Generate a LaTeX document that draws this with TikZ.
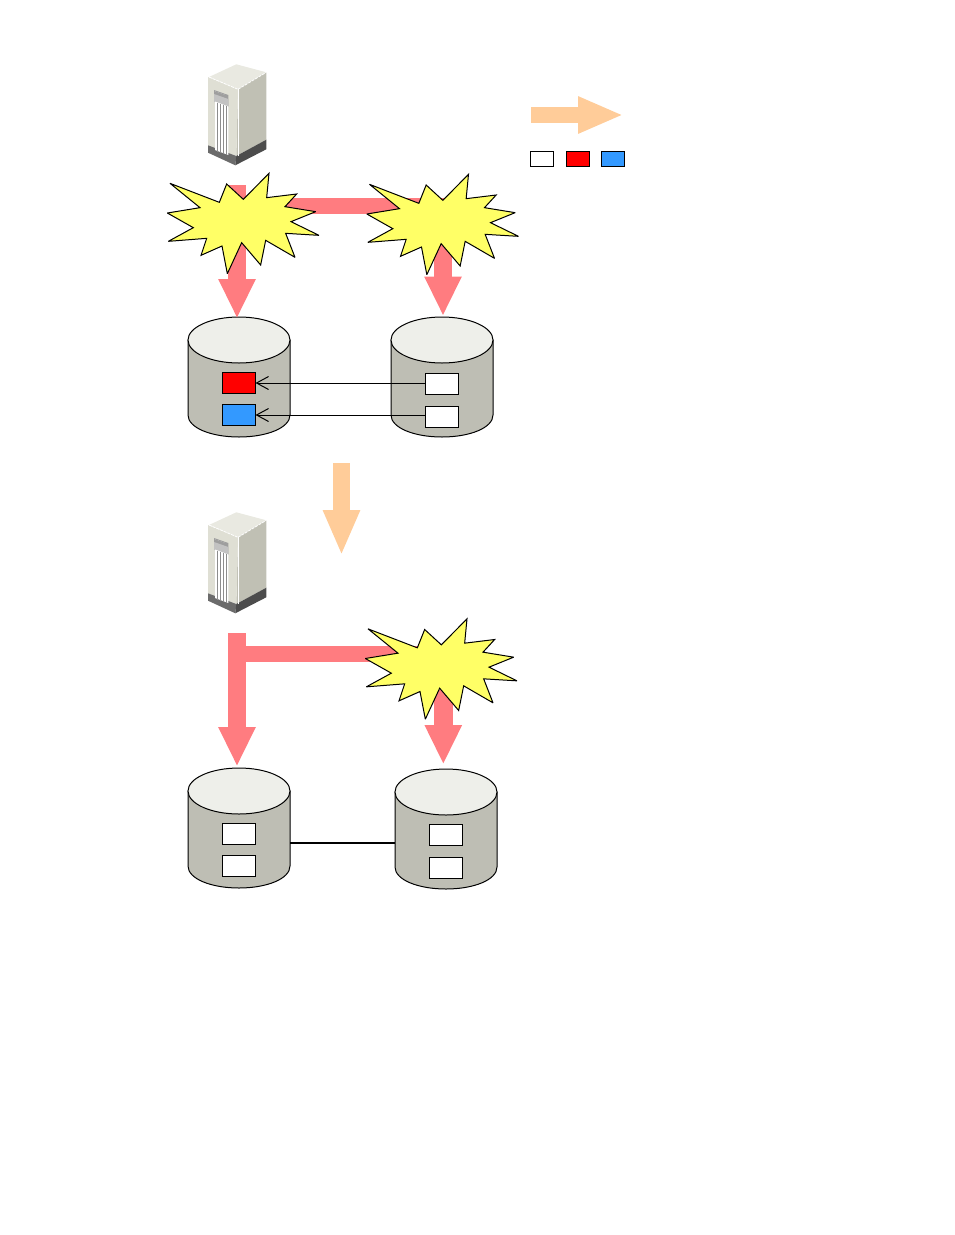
\documentclass[tikz,border=0pt]{standalone}
\usetikzlibrary{arrows.meta}
\definecolor{flow}{HTML}{FF7C80}
\definecolor{stepflow}{HTML}{FFCC99}
\definecolor{burstfill}{HTML}{FFFF66}
\definecolor{drumbody}{HTML}{BEBEB4}
\definecolor{drumtop}{HTML}{EEEFEA}
\definecolor{volblue}{HTML}{3399FF}
\definecolor{cabtop}{HTML}{E9E9E1}
\definecolor{cabfront}{HTML}{DFDFD4}
\definecolor{cabside}{HTML}{C0C0B4}
\tikzset{
  drumframe/.style={rectangle, minimum width=102pt, minimum height=120pt, inner sep=0pt, outer sep=0pt},
  drumline/.style={draw=black, line width=1pt},
  vol/.style={rectangle, draw=black, line width=1pt, minimum width=33pt, minimum height=21pt,
    inner sep=0pt, outer sep=0pt, fill=white},
  swatch/.style={rectangle, draw=black, line width=1pt, minimum width=23.5pt, minimum height=15pt,
    inner sep=0pt, outer sep=0pt, fill=white},
  flowarrow/.style={draw=flow, line width=18.5pt, -{Triangle[length=39.5pt,width=34.5pt]}},
  flowbar/.style={draw=flow, line width=16pt},
  stepbar/.style={draw=stepflow, line width=16.5pt, -{Triangle[length=45.5pt,width=34pt]}},
  copyline/.style={draw=black, line width=1pt, -{Straight Barb[length=12pt,width=13pt]}},
  burst/.pic={
    \begin{scope}[xshift=150pt,yshift=-165pt,x=.33333pt,y=-.33333pt]
      \draw[fill=burstfill,draw=black,line width=1pt,line join=miter,miter limit=3]
        (60,55)--(208,112)--(230,57)--(280,103)--(357,25)--(350,98)--(440,87)--(405,125)
        --(497,140)--(423,170)--(507,211)--(407,205)--(435,277)--(347,226)--(332,300)
        --(275,233)--(232,326)--(216,243)--(153,271)--(170,220)--(55,229)--(130,188)
        --(52,144)--(150,128)--cycle;
    \end{scope}
  },
  tower/.pic={
    % top, sides and plinth of the server cabinet
    \fill[cabtop] (209,77)--(236.3,64.3)--(266.3,72.3)--(238,89.3)--cycle;
    \fill[cabside] (238,89.3)--(266.3,72.3)--(266.3,139.7)--(236.3,156)--cycle;
    \fill[cabfront] (208,77)--(238,89.3)--(236.3,156)--(208,145.3)--cycle;
    \fill[black!58] (208,145.3)--(236.3,156)--(235.3,165.3)--(208,152.7)--cycle;
    \fill[black!70] (236.3,156)--(266.3,139.7)--(266.3,149.3)--(235.3,165.3)--cycle;
    \draw[white,line width=.8pt] (238,89.3)--(238,156);
    \draw[white,line width=.8pt,dash pattern=on 3pt off 1pt] (238,89.3)--(266.3,72.3);
    \draw[white,line width=.8pt,dash pattern=on 3pt off 1pt] (209,77)--(238,89.3);
    % vent panel and grille
    \fill[black!38] (214,90)--(228.3,95)--(228.3,106.7)--(214,101.7)--cycle;
    \fill[black!24] (214,94)--(228.3,99)--(228.3,106.7)--(214,101.7)--cycle;
    \fill[white] (215,101.5)--(228.3,106.5)--(228.3,155)--(215,150)--cycle;
    \foreach \sx in {217,220,223,226}{
      \draw[black!45,line width=1pt] (\sx,{102+(\sx-215)*.38}) -- (\sx,{151+(\sx-215)*.38});
    }
    \draw[black!25,line width=.6pt,dash pattern=on 1pt off 2pt] (215,91)--(226,95);
  }
}
% A disk drum: an invisible frame node that carries the name, with the body and lid drawn over it
\newcommand{\drumat}[3]{%
  \node[drumframe] (#1) at (#2,#3) {};
  \begin{scope}[shift={(#2,#3)}]
    \draw[drumline,fill=drumbody] (-51,-37) -- (-51,38)
      .. controls (-51,50.7) and (-28.2,60) .. (0,60)
      .. controls (28.2,60) and (51,50.7) .. (51,38) -- (51,-37) -- cycle;
    \draw[drumline,fill=drumtop] (-51,-37)
      .. controls (-51,-49.7) and (-28.2,-60) .. (0,-60)
      .. controls (28.2,-60) and (51,-49.7) .. (51,-37)
      .. controls (51,-24.3) and (28.2,-14) .. (0,-14)
      .. controls (-28.2,-14) and (-51,-24.3) .. (-51,-37) -- cycle;
  \end{scope}%
}
\begin{document}
\begin{tikzpicture}[x=1pt,y=-1pt]
\useasboundingbox (0,0) rectangle (954,1235);

% legend
\coordinate (legA) at (531,115);
\coordinate (legB) at (623.5,115);
\draw[stepbar] (legA) -- (legB);
\node[swatch] (swWhite) at (541.8,159) {};
\node[swatch,fill=red] (swRed) at (578,159) {};
\node[swatch,fill=volblue] (swBlue) at (613.2,158.7) {};

% servers
\pic at (0,0) {tower};
\pic[shift={(0,448)}] at (0,0) {tower};

% upper pair of disks and volumes
\drumat{diskA}{239}{377}
\drumat{diskB}{442}{377}
\node[vol,fill=red] (volA1) at (239,383) {};
\node[vol,fill=volblue] (volA2) at (239,415) {};
\node[vol] (volB1) at (442,384) {};
\node[vol] (volB2) at (442,416.5) {};

% lower pair of disks and volumes
\drumat{diskC}{239}{828}
\drumat{diskD}{446}{829}
\node[vol] (volC1) at (239,833.5) {};
\node[vol] (volC2) at (239,866) {};
\node[vol] (volD1) at (445.5,835) {};
\node[vol] (volD2) at (445.5,867.5) {};

% copy relations
\draw[copyline] (volA1.east -| volB1.west) -- (volA1.east);
\draw[copyline] (volA2.east -| volB2.west) -- (volA2.east);
\draw[black,line width=1.6pt] ([yshift=1.2pt]diskC.east |- volC1.south) -- ([yshift=1.2pt]diskD.west |- volC1.south);

% upper access paths
\coordinate (upStart) at (237,185);
\coordinate (upEnd) at (237,318.5);
\coordinate (upBarL) at (237,206);
\coordinate (upBarR) at (452,206);
\coordinate (upRightStart) at (443,206);
\coordinate (upRightEnd) at (443,316);
\draw[flowbar] (upBarL) -- (upBarR);
\draw[flowarrow] (upStart) -- (upEnd);
\draw[flowarrow] (upRightStart) -- (upRightEnd);

% lower access paths
\coordinate (lowStart) at (237,633);
\coordinate (lowEnd) at (237,766.5);
\coordinate (lowBarL) at (237,654);
\coordinate (lowBarR) at (425,654);
\coordinate (lowRightStart) at (443.3,690);
\coordinate (lowRightEnd) at (443.3,764.5);
\draw[flowbar] (lowBarL) -- (lowBarR);
\draw[flowarrow] (lowStart) -- (lowEnd);
\draw[flowarrow] (lowRightStart) -- (lowRightEnd);

% transition between the two states
\coordinate (stepA) at (341.5,463);
\coordinate (stepB) at (341.5,555.5);
\draw[stepbar] (stepA) -- (stepB);

% failure markers
\pic at (0,0) {burst};
\pic[shift={(199.5,1)}] at (0,0) {burst};
\pic[shift={(198,445.5)}] at (0,0) {burst};
\end{tikzpicture}
\end{document}
